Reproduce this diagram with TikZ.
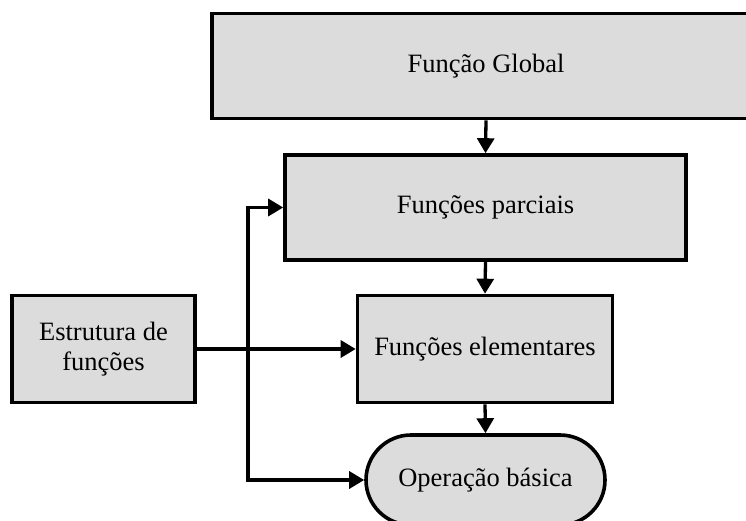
\documentclass[tikz,border=0pt]{standalone}
\usepackage{fontspec}
\setmainfont{Liberation Serif}
\usetikzlibrary{arrows.meta}
\definecolor{boxfill}{RGB}{220,220,220}
\begin{document}
\begin{tikzpicture}[x=1pt,y=-1pt,
  every node/.style={font=\fontsize{26.5}{29.5}\selectfont, text=black},
  blk/.style={draw=black, line width=3.6pt, fill=boxfill, inner sep=0pt, align=center},
  term/.style={blk, rounded corners=45pt},
  arr/.style={line width=3.3pt, -{Triangle[length=15pt,width=17pt]}}]
\useasboundingbox (0,0) rectangle (746,521);
\clip (0,0) rectangle (746,521);
% blocks
\node[blk, minimum width=548pt, minimum height=105pt] (global) at (486,66) {Função Global};
\node[blk, minimum width=401pt, minimum height=105pt] (partial) at (485.5,207.5) {Funções parciais};
\node[blk, minimum width=255pt, minimum height=107pt] (elem) at (485,349) {Funções elementares};
\node[blk, minimum width=183pt, minimum height=107pt] (estr) at (103.5,349) {Estrutura de\\funções};
\node[term, minimum width=239pt, minimum height=90pt] (oper) at (485.5,480) {Operação básica};
% vertical flow
\draw[arr] (global.south) -- (partial.north);
\draw[arr] (partial.south) -- (elem.north);
\draw[arr] (elem.south) -- (oper.north);
% structure feeds
\coordinate (bus) at (248,349);
\draw[arr] (estr.east) -- (elem.west);
\draw[arr] (bus) |- (partial.west);
\draw[arr] (bus) |- (oper.west);
\end{tikzpicture}
\end{document}
